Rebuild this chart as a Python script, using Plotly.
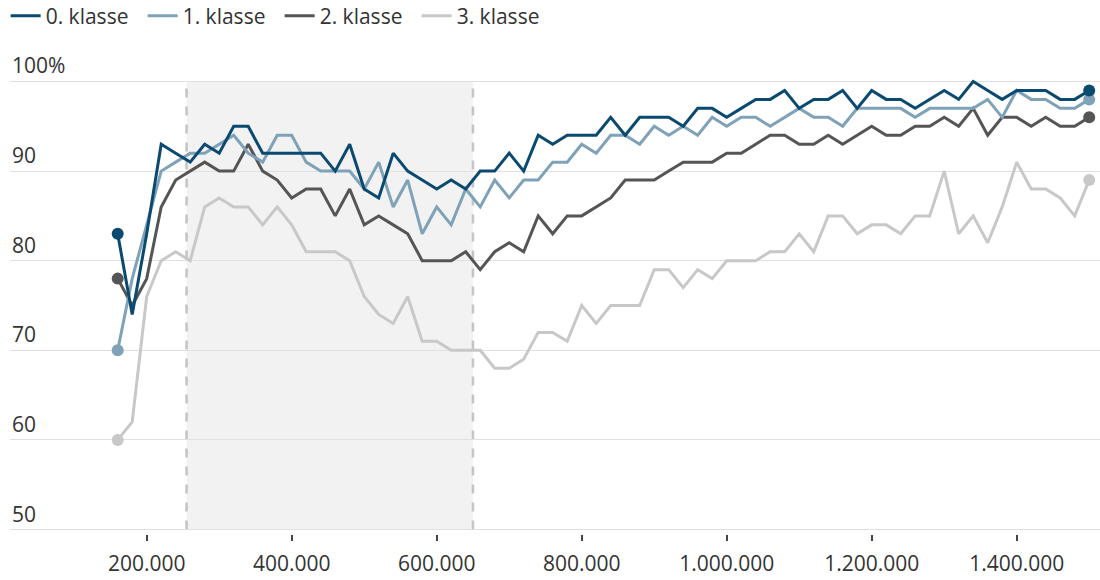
import plotly.graph_objects as go

# ---- data ----
x_vals = [160000, 180000, 200000, 220000, 240000, 260000, 280000, 300000, 320000, 340000,
          360000, 380000, 400000, 420000, 440000, 460000, 480000, 500000, 520000, 540000,
          560000, 580000, 600000, 620000, 640000, 660000, 680000, 700000, 720000, 740000,
          760000, 780000, 800000, 820000, 840000, 860000, 880000, 900000, 920000, 940000,
          960000, 980000, 1000000, 1020000, 1040000, 1060000, 1080000, 1100000, 1120000, 1140000,
          1160000, 1180000, 1200000, 1220000, 1240000, 1260000, 1280000, 1300000, 1320000, 1340000,
          1360000, 1380000, 1400000, 1420000, 1440000, 1460000, 1480000, 1500000]

klasse0 = [83, 74, 83, 93, 92, 91, 93, 92, 95, 95,
           92, 92, 92, 92, 92, 90, 93, 88, 87, 92,
           90, 89, 88, 89, 88, 90, 90, 92, 90, 94,
           93, 94, 94, 94, 96, 94, 96, 96, 96, 95,
           97, 97, 96, 97, 98, 98, 99, 97, 98, 98,
           99, 97, 99, 98, 98, 97, 98, 99, 98, 100,
           99, 98, 99, 99, 99, 98, 98, 99]

klasse1 = [70, 78, 84, 90, 91, 92, 92, 93, 94, 92,
           91, 94, 94, 91, 90, 90, 90, 88, 91, 86,
           89, 83, 86, 84, 88, 86, 89, 87, 89, 89,
           91, 91, 93, 92, 94, 94, 93, 95, 94, 95,
           94, 96, 95, 96, 96, 95, 96, 97, 96, 96,
           95, 97, 97, 97, 97, 96, 97, 97, 97, 97,
           98, 96, 99, 98, 98, 97, 97, 98]

klasse2 = [78, 75, 78, 86, 89, 90, 91, 90, 90, 93,
           90, 89, 87, 88, 88, 85, 88, 84, 85, 84,
           83, 80, 80, 80, 81, 79, 81, 82, 81, 85,
           83, 85, 85, 86, 87, 89, 89, 89, 90, 91,
           91, 91, 92, 92, 93, 94, 94, 93, 93, 94,
           93, 94, 95, 94, 94, 95, 95, 96, 95, 97,
           94, 96, 96, 95, 96, 95, 95, 96]

klasse3 = [60, 62, 76, 80, 81, 80, 86, 87, 86, 86,
           84, 86, 84, 81, 81, 81, 80, 76, 74, 73,
           76, 71, 71, 70, 70, 70, 68, 68, 69, 72,
           72, 71, 75, 73, 75, 75, 75, 79, 79, 77,
           79, 78, 80, 80, 80, 81, 81, 83, 81, 85,
           85, 83, 84, 84, 83, 85, 85, 90, 83, 85,
           82, 86, 91, 88, 88, 87, 85, 89]

series_names = ["0. klasse", "1. klasse", "2. klasse", "3. klasse"]
series_values = [klasse0, klasse1, klasse2, klasse3]
series_colors = ["#0b4a70", "#7fa2b8", "#555555", "#c8c8c8"]

x_tick_vals = [200000, 400000, 600000, 800000, 1000000, 1200000, 1400000]
x_tick_text = ["200.000", "400.000", "600.000", "800.000", "1.000.000", "1.200.000", "1.400.000"]
y_tick_vals = [50, 60, 70, 80, 90, 100]
y_tick_text = ["50", "60", "70", "80", "90", "100%"]

shade_start = 255000
shade_end = 650000

FONT = "Open Sans"
TEXT_COLOR = "#333333"

fig = go.Figure()

# draw in reverse so 0. klasse sits on top
for i in reversed(range(len(series_names))):
    fig.add_trace(go.Scatter(
        x=x_vals, y=series_values[i], mode="lines", name=series_names[i],
        line=dict(color=series_colors[i], width=3),
        legendrank=i + 1, hoverinfo="skip",
    ))
for i in reversed(range(len(series_names))):
    vals = series_values[i]
    fig.add_trace(go.Scatter(
        x=[x_vals[0], x_vals[-1]], y=[vals[0], vals[-1]], mode="markers",
        marker=dict(color=series_colors[i], size=12),
        showlegend=False, hoverinfo="skip", cliponaxis=False,
    ))

# shaded period
fig.add_shape(type="rect", xref="x", yref="y", x0=shade_start, x1=shade_end, y0=50, y1=100,
              fillcolor="#f2f2f2", line=dict(width=0), layer="below")
for xv in (shade_start, shade_end):
    fig.add_shape(type="line", xref="x", yref="y", x0=xv, x1=xv, y0=50, y1=100,
                  line=dict(color="#c4c4c4", width=2.5, dash="dash"), layer="below")

# y tick labels sitting above gridlines
for v, t in zip(y_tick_vals, y_tick_text):
    fig.add_annotation(x=0, xref="paper", y=v, yref="y", text=t, showarrow=False,
                       xanchor="left", yanchor="bottom", yshift=0,
                       font=dict(family=FONT, size=21, color=TEXT_COLOR))

fig.update_layout(
    width=1100, height=580,
    margin=dict(l=10, r=0, t=77, b=46, autoexpand=False),
    plot_bgcolor="white", paper_bgcolor="white",
    font=dict(family=FONT, color=TEXT_COLOR),
    showlegend=True,
    legend=dict(orientation="h", x=-0.004, xanchor="left", y=1.1335, yref="paper",
                yanchor="middle", font=dict(family=FONT, size=21, color=TEXT_COLOR),
                entrywidth=92, entrywidthmode="pixels", itemwidth=30,
                bgcolor="rgba(0,0,0,0)", traceorder="normal"),
    xaxis=dict(range=[11448, 1514897], tickvals=x_tick_vals, ticktext=x_tick_text,
               ticks="outside", ticklen=6, tickwidth=1.5, tickcolor="#444444",
               ticklabelstandoff=5,
               showgrid=False, zeroline=False, showline=False,
               tickfont=dict(family=FONT, size=21, color=TEXT_COLOR)),
    yaxis=dict(range=[49.5, 100.5], tickvals=y_tick_vals, showticklabels=False,
               showgrid=True, gridcolor="#e0e0e0", gridwidth=1.2,
               zeroline=False, showline=False, fixedrange=True),
)

fig.write_html("out.html", config={"displayModeBar": False},
               post_script="document.body.style.margin='0';document.body.style.padding='0';")
